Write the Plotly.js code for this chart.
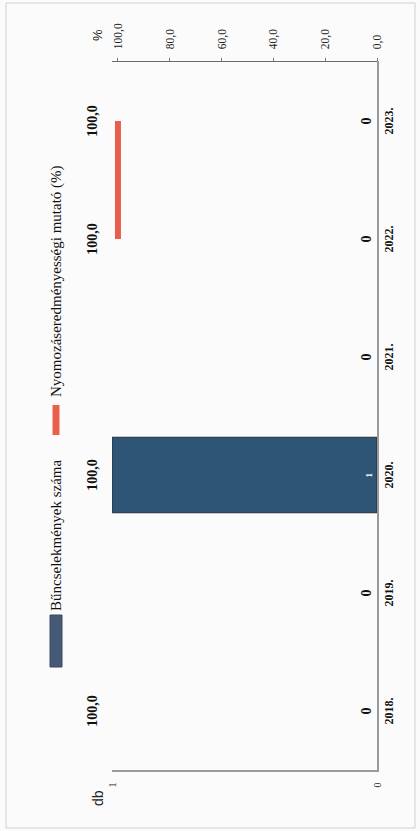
<!DOCTYPE html>
<html>
<head>
<meta charset="utf-8">
<script src="https://cdn.plot.ly/plotly-3.0.1.min.js"></script>
<style>
  html, body { margin: 0; padding: 0; overflow: hidden; background: #fbfbfb; width: 420px; height: 831px; }
  #chart { position: absolute; top: 0; left: 0; width: 831px; height: 420px;
           transform-origin: 0 0; transform: translate(0px, 831px) rotate(-90deg); }
</style>
</head>
<body>
<div id="chart"></div>
<script>
// Data
var years = ['2018.', '2019.', '2020.', '2021.', '2022.', '2023.'];
var crimeCount = [0, 0, 1, 0, 0, 0];                  // Bűncselekmények száma (db)
var clearanceRate = [100, null, 100, null, 100, 100]; // Nyomozáseredményességi mutató (%)
var pctTicks = [0, 20, 40, 60, 80, 100];
var dbTicks = [0, 1];
var seriesNames = ['Bűncselekmények száma', 'Nyomozáseredményességi mutató (%)'];

var serif = 'Liberation Serif, Times New Roman, serif';
var sans = 'Liberation Sans, Arial, sans-serif';
var barColor = '#2F5576';
var lineColor = '#E8604C';

var barText = crimeCount.map(function (v) { return String(v); });
var barTextPos = crimeCount.map(function (v) { return v > 0 ? 'inside' : 'outside'; });
var barTextColor = crimeCount.map(function (v) { return v > 0 ? '#ffffff' : '#111111'; });
var barTextSize = crimeCount.map(function (v) { return v > 0 ? 9 : 14; });
var barLineWidth = crimeCount.map(function (v) { return v > 0 ? 1.2 : 0; });

var lineText = clearanceRate.map(function (v) { return v === null ? '' : v.toFixed(1).replace('.', ','); });

var traces = [
  {
    type: 'bar',
    name: seriesNames[0],
    x: years,
    y: crimeCount,
    yaxis: 'y',
    marker: { color: barColor, line: { color: '#27303a', width: barLineWidth } },
    text: barText,
    textposition: barTextPos,
    insidetextanchor: 'start',
    textfont: { family: serif, size: barTextSize, color: barTextColor, weight: 'bold' },
    cliponaxis: false,
    showlegend: false,
    hoverinfo: 'skip'
  },
  {
    type: 'scatter',
    name: seriesNames[1],
    x: years,
    y: clearanceRate,
    yaxis: 'y2',
    mode: 'lines+markers+text',
    connectgaps: false,
    line: { color: lineColor, width: 6 },
    marker: { size: 26, opacity: 0, color: lineColor },
    text: lineText,
    textposition: 'top center',
    textfont: { family: serif, size: 14, color: '#111111', weight: 'bold' },
    cliponaxis: false,
    showlegend: false,
    hoverinfo: 'skip'
  }
];

// helpers to place decoration (legend, titles) in paper space
function px(u) { return (u - 61) / 708; }
function py(v) { return (377 - v) / 265; }

var layout = {
  width: 831,
  height: 420,
  margin: { l: 61, r: 62, t: 112, b: 43 },
  paper_bgcolor: '#fbfbfb',
  plot_bgcolor: 'rgba(0,0,0,0)',
  separators: ',.',
  bargap: 0.36,
  font: { family: serif, color: '#222' },
  showlegend: false,
  xaxis: {
    type: 'category',
    tickvals: years,
    ticktext: years,
    tickfont: { family: serif, size: 12, color: '#111', weight: 'bold' },
    showline: true, linecolor: '#9a9a9a', linewidth: 1.5,
    ticks: '', showgrid: false, zeroline: false
  },
  yaxis: {
    range: [0, 1],
    tickvals: dbTicks,
    ticktext: dbTicks.map(String),
    tickfont: { family: serif, size: 10, color: '#222' },
    showline: true, linecolor: '#9a9a9a', linewidth: 1.5,
    ticks: '', ticklabelstandoff: 9,
    showgrid: false, zeroline: false
  },
  yaxis2: {
    overlaying: 'y',
    side: 'right',
    range: [0, 102.3],
    tickvals: pctTicks,
    ticktext: pctTicks.map(function (v) { return v.toFixed(1).replace('.', ','); }),
    tickfont: { family: serif, size: 11.5, color: '#222' },
    showline: true, linecolor: '#6a6a6a', linewidth: 1.5,
    ticks: 'outside', ticklen: 3, tickcolor: '#777',
    ticklabelstandoff: 6,
    showgrid: false, zeroline: false
  },
  annotations: [
    { text: 'db', xref: 'paper', yref: 'paper', x: px(23), y: py(88),
      showarrow: false, font: { family: sans, size: 14, color: '#222' } },
    { text: '%', xref: 'paper', yref: 'paper', x: px(804), y: py(88),
      showarrow: false, font: { family: sans, size: 13, color: '#222' } },
    { text: seriesNames[0], xref: 'paper', yref: 'paper', x: px(218), y: py(56),
      xanchor: 'left', yanchor: 'middle', showarrow: false,
      font: { family: serif, size: 15, color: '#111' } },
    { text: seriesNames[1], xref: 'paper', yref: 'paper', x: px(432), y: py(56),
      xanchor: 'left', yanchor: 'middle', showarrow: false,
      font: { family: serif, size: 15, color: '#111' } }
  ],
  shapes: [
    { type: 'rect', xref: 'paper', yref: 'paper', layer: 'below',
      x0: px(3), x1: px(828), y0: py(415), y1: py(6),
      line: { color: '#d0d0d0', width: 1 }, fillcolor: 'rgba(0,0,0,0)' },
    // legend swatches
    { type: 'rect', xref: 'paper', yref: 'paper',
      x0: px(164), x1: px(216), y0: py(62), y1: py(50),
      line: { color: '#3a4a60', width: 1 }, fillcolor: '#465a76' },
    { type: 'line', xref: 'paper', yref: 'paper',
      x0: px(396), x1: px(426), y0: py(56), y1: py(56),
      line: { color: lineColor, width: 7 } }
  ]
};

Plotly.newPlot('chart', traces, layout, { displayModeBar: false, staticPlot: true });
</script>
</body>
</html>
